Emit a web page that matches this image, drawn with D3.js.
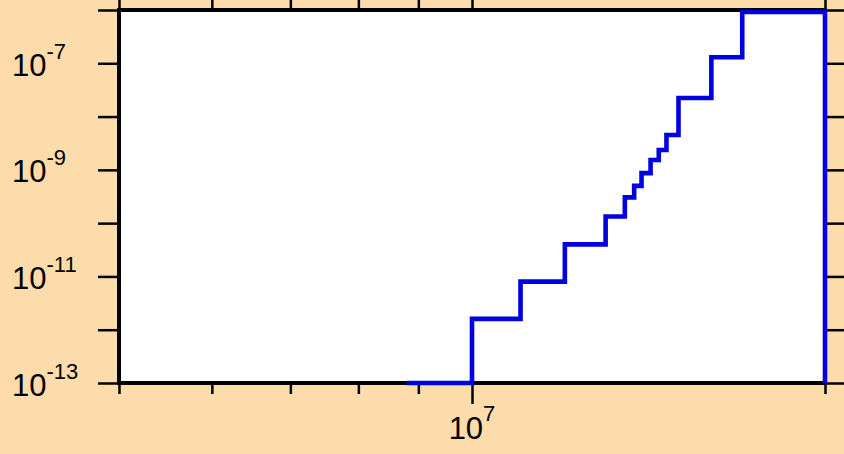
<!DOCTYPE html>
<html>
<head>
<meta charset="utf-8">
<script src="https://cdn.jsdelivr.net/npm/d3@7"></script>
<style>
  html, body { margin: 0; padding: 0; background: #fcdcaa; }
  svg { display: block; }
</style>
</head>
<body>
<svg id="chart" width="844" height="454"></svg>
<script>
// Step curve: each level starts at stepX[i] and holds stepY[i] until the next edge
const stepX = [8.8e6, 1.0e7, 1.1e7, 1.2e7, 1.3e7, 1.35e7, 1.375e7, 1.395e7, 1.42e7, 1.443e7, 1.465e7, 1.5e7, 1.6e7, 1.7e7, 2.0e7];
const stepY = [1e-13, 1.6e-12, 8e-12, 4e-11, 1.33e-10, 3.05e-10, 5e-10, 8.7e-10, 1.53e-9, 2.36e-9, 4.5e-9, 2.23e-8, 1.3e-7, 9.2e-7, 1e-13];

// Axis extents and ticks
const xDomain = [5e6, 2e7];
const yDomain = [1e-13, 1e-6];
const xMinorTicks = [5e6, 6e6, 7e6, 8e6, 9e6, 2e7];
const xMajorTicks = [1e7];
const xTickLabels = [{ v: 1e7, base: "10", exp: "7" }];
const yTicks = [1e-13, 1e-12, 1e-11, 1e-10, 1e-9, 1e-8, 1e-7, 1e-6];
const yTickLabels = [
  { v: 1e-7, base: "10", exp: "-7" },
  { v: 1e-9, base: "10", exp: "-9" },
  { v: 1e-11, base: "10", exp: "-11" },
  { v: 1e-13, base: "10", exp: "-13" }
];

const svg = d3.select("#chart");
const W = 844, H = 454;
const plot = { left: 119, right: 825, top: 10, bottom: 383 };
const font = "'Liberation Sans', Arial, Helvetica, sans-serif";

svg.append("rect").attr("width", W).attr("height", H).attr("fill", "#fcdcaa");

const x = d3.scaleLog().domain(xDomain).range([plot.left, plot.right]);
const y = d3.scaleLog().domain(yDomain).range([plot.bottom, plot.top]);

// plotting area
svg.append("rect")
  .attr("x", plot.left).attr("y", plot.top)
  .attr("width", plot.right - plot.left).attr("height", plot.bottom - plot.top)
  .attr("fill", "#ffffff");

function styleAxis(g) {
  g.select(".domain").remove();
  g.selectAll(".tick line").attr("stroke", "#000").attr("stroke-width", 2.5);
  g.selectAll(".tick text").remove();
}

// bottom & top ticks
svg.append("g").attr("transform", `translate(0,${plot.bottom})`)
  .call(d3.axisBottom(x).tickValues(xMinorTicks).tickSize(11).tickFormat(() => "")).call(styleAxis);
svg.append("g").attr("transform", `translate(0,${plot.bottom})`)
  .call(d3.axisBottom(x).tickValues(xMajorTicks).tickSize(21).tickFormat(() => "")).call(styleAxis);
svg.append("g").attr("transform", `translate(0,${plot.top})`)
  .call(d3.axisTop(x).tickValues(xMinorTicks).tickSize(11).tickFormat(() => "")).call(styleAxis);
svg.append("g").attr("transform", `translate(0,${plot.top})`)
  .call(d3.axisTop(x).tickValues(xMajorTicks).tickSize(21).tickFormat(() => "")).call(styleAxis);

// left & right ticks
svg.append("g").attr("transform", `translate(${plot.left},0)`)
  .call(d3.axisLeft(y).tickValues(yTicks).tickSize(21).tickFormat(() => "")).call(styleAxis);
svg.append("g").attr("transform", `translate(${plot.right},0)`)
  .call(d3.axisRight(y).tickValues(yTicks).tickSize(21).tickFormat(() => "")).call(styleAxis);

// frame
svg.append("rect")
  .attr("x", plot.left).attr("y", plot.top)
  .attr("width", plot.right - plot.left).attr("height", plot.bottom - plot.top)
  .attr("fill", "none").attr("stroke", "#000").attr("stroke-width", 4);

// y labels (power-of-ten with superscript)
const yl = svg.append("g").attr("font-family", font).attr("fill", "#000");
yTickLabels.forEach(d => {
  const t = yl.append("text")
    .attr("x", 12).attr("y", y(d.v) + 12.5)
    .attr("font-size", 31);
  t.append("tspan").text(d.base);
  t.append("tspan").attr("font-size", 22).attr("dy", -17).text(d.exp);
});

// x labels
const xl = svg.append("g").attr("font-family", font).attr("fill", "#000");
xTickLabels.forEach(d => {
  const t = xl.append("text")
    .attr("x", x(d.v)).attr("y", 439)
    .attr("text-anchor", "middle")
    .attr("font-size", 31);
  t.append("tspan").text(d.base);
  t.append("tspan").attr("font-size", 22).attr("dy", -18).text(d.exp);
});

// the step curve
const pts = stepX.map((v, i) => [v, stepY[i]]);
const line = d3.line()
  .x(d => x(d[0]))
  .y(d => y(d[1]))
  .curve(d3.curveStepAfter);
svg.append("path")
  .datum(pts)
  .attr("d", line)
  .attr("fill", "none")
  .attr("stroke", "#0000e0")
  .attr("stroke-width", 4.6)
  .attr("stroke-linejoin", "miter");
</script>
</body>
</html>
